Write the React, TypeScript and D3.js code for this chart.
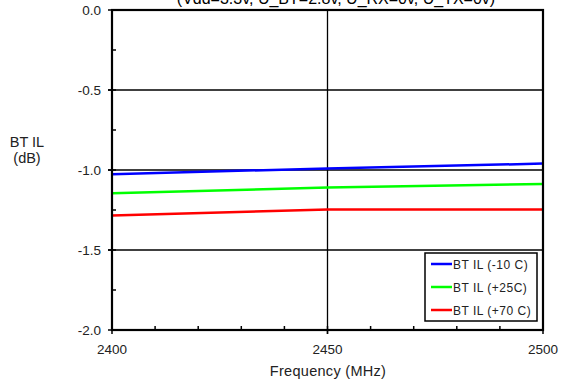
import React from "react";
import * as d3 from "d3";

// Frequency points (MHz)
const freqs = [2400, 2450, 2500];

// Insertion loss (dB) per temperature
const ilMinus10 = [-1.027, -0.99, -0.96];
const ilPlus25 = [-1.146, -1.11, -1.087];
const ilPlus70 = [-1.285, -1.247, -1.247];

const seriesNames = ["BT IL (-10 C)", "BT IL (+25C)", "BT IL (+70 C)"];
const seriesColors = ["#0000ff", "#00ff00", "#ff0000"];

const xTicks = [2400, 2450, 2500];
const yTicks = [0, -0.5, -1.0, -1.5, -2.0];
const xMinor = d3.range(2400, 2501, 10);
const yMinor = d3.range(0, -2.01, -0.25);

const title = "(Vdd=3.3v, U_BT=2.8v, U_RX=0v, U_TX=0v)";

const W = 561;
const H = 388;
const left = 112;
const right = 543;
const top = 10;
const bottom = 330;

// plain hyphen for negatives, one decimal
const fmtY = (v: number) => d3.format(".1f")(v).replace("\u2212", "-");

export default function App() {
  const x = d3.scaleLinear().domain([2400, 2500]).range([left, right]);
  const y = d3.scaleLinear().domain([-2, 0]).range([bottom, top]);
  const line = d3
    .line<[number, number]>()
    .x((d) => x(d[0]))
    .y((d) => y(d[1]));

  const allSeries = [ilMinus10, ilPlus25, ilPlus70];
  const font = "'Liberation Sans', Arial, sans-serif";

  return (
    <svg
      width={W}
      height={H}
      style={{ position: "absolute", left: 0, top: 0, background: "#fff" }}
      fontFamily={font}
    >
      {/* title, running off the top edge */}
      <text x={336} y={4} fontSize={16} textAnchor="middle" fill="#000">
        {title}
      </text>

      {/* grid */}
      {yTicks
        .filter((t) => t !== 0 && t !== -2)
        .map((t) => (
          <line key={"gy" + t} x1={left - 4} x2={right} y1={y(t)} y2={y(t)} stroke="#000" strokeWidth={1.5} />
        ))}
      {xTicks
        .filter((t) => t !== 2400 && t !== 2500)
        .map((t) => (
          <line key={"gx" + t} x1={x(t)} x2={x(t)} y1={top} y2={bottom + 4} stroke="#000" strokeWidth={1.3} />
        ))}

      {/* minor ticks */}
      {yMinor.map((t) => (
        <line key={"my" + t} x1={left} x2={left + 4} y1={y(t)} y2={y(t)} stroke="#000" strokeWidth={1.5} />
      ))}
      {xMinor.map((t) => (
        <line key={"mx" + t} x1={x(t)} x2={x(t)} y1={bottom} y2={bottom - 4} stroke="#000" strokeWidth={1.5} />
      ))}
      {/* major ticks */}
      {yTicks.map((t) => (
        <line key={"ty" + t} x1={left - 4} x2={left} y1={y(t)} y2={y(t)} stroke="#000" strokeWidth={1.5} />
      ))}
      {xTicks.map((t) => (
        <line key={"tx" + t} x1={x(t)} x2={x(t)} y1={bottom} y2={bottom + 4} stroke="#000" strokeWidth={1.5} />
      ))}

      {/* series */}
      {allSeries.map((vals, i) => (
        <path
          key={seriesNames[i]}
          d={line(freqs.map((f, j) => [f, vals[j]] as [number, number])) || ""}
          fill="none"
          stroke={seriesColors[i]}
          strokeWidth={2.5}
        />
      ))}

      {/* frame */}
      <rect x={left} y={top} width={right - left} height={bottom - top} fill="none" stroke="#000" strokeWidth={2.2} />

      {/* tick labels */}
      {yTicks.map((t) => (
        <text key={"ly" + t} x={101} y={y(t) + 5} fontSize={13.5} textAnchor="end" fill="#222">
          {fmtY(t)}
        </text>
      ))}
      {xTicks.map((t) => (
        <text key={"lx" + t} x={x(t)} y={354} fontSize={13.5} textAnchor="middle" fill="#222">
          {t}
        </text>
      ))}

      {/* axis titles */}
      <text x={328} y={376} fontSize={14.5} textAnchor="middle" fill="#222" letterSpacing={0.3}>
        Frequency (MHz)
      </text>
      <text x={27} y={147} fontSize={14.5} textAnchor="middle" fill="#222">
        BT IL
      </text>
      <text x={27} y={163} fontSize={14.5} textAnchor="middle" fill="#222">
        (dB)
      </text>

      {/* legend */}
      <rect x={425} y={253} width={112} height={68} fill="#fff" stroke="#000" strokeWidth={1.5} />
      {seriesNames.map((name, i) => {
        const ly = 264 + i * 23;
        return (
          <g key={"lg" + name}>
            <line x1={431} x2={452} y1={ly} y2={ly} stroke={seriesColors[i]} strokeWidth={2.5} />
            <text x={453} y={ly + 4.5} fontSize={12} fill="#222" letterSpacing={0.5}>
              {name}
            </text>
          </g>
        );
      })}
    </svg>
  );
}
